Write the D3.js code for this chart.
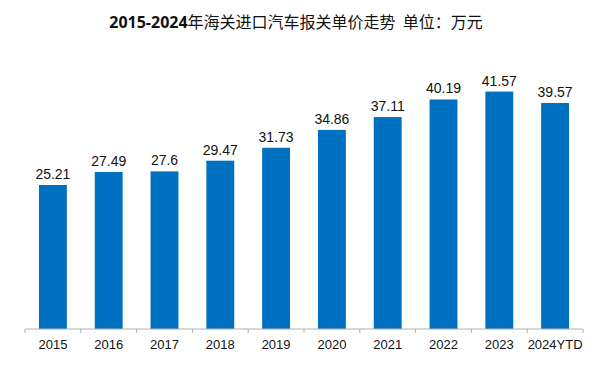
<!DOCTYPE html>
<html><head><meta charset="utf-8">
<script src="https://cdn.jsdelivr.net/npm/d3@7"></script>
<style>body{margin:0;background:#fff}svg{display:block}</style>
</head><body>
<script>
const categories = ["2015","2016","2017","2018","2019","2020","2021","2022","2023","2024YTD"];
const values = [25.21,27.49,27.6,29.47,31.73,34.86,37.11,40.19,41.57,39.57];
const valueLabels = ["25.21","27.49","27.6","29.47","31.73","34.86","37.11","40.19","41.57","39.57"];
const titleBold = "2015-2024";
const titleRest = "年海关进口汽车报关单价走势  单位：万元";

const W = 600, H = 366;
const svg = d3.select("body").append("svg").attr("width", W).attr("height", H);

const x = d3.scaleBand().domain(categories).range([25, 583]).paddingInner(0.5).paddingOuter(0.25);
const y = d3.scaleLinear().domain([0, 45]).range([329, 72]);

// title
const t = svg.append("text").attr("x", 296).attr("y", 28).attr("text-anchor", "middle")
  .attr("xml:space", "preserve")
  .style("font-family", "'Noto Sans CJK SC', 'Open Sans', sans-serif").style("font-size", "16px").attr("fill", "#111")
  .style("white-space", "pre");
t.append("tspan").text(titleBold).style("font-weight", "bold").style("font-family", "'Open Sans','Noto Sans CJK SC',sans-serif");
t.append("tspan").text(titleRest).style("font-weight", "normal");

// bars
svg.selectAll("rect.bar").data(values).enter().append("rect").attr("class", "bar")
  .attr("x", (d, i) => x(categories[i]))
  .attr("width", x.bandwidth())
  .attr("y", d => y(d))
  .attr("height", d => y(0) - y(d))
  .attr("fill", "#0070C0");

// value labels
svg.selectAll("text.val").data(values).enter().append("text").attr("class", "val")
  .attr("x", (d, i) => x(categories[i]) + x.bandwidth() / 2)
  .attr("y", d => y(d) - 6)
  .attr("text-anchor", "middle")
  .style("font-family", "'Liberation Sans', Arial, sans-serif").style("font-size", "14px")
  .attr("fill", "#111")
  .text((d, i) => valueLabels[i]);

// axis
const ax = svg.append("g").attr("transform", "translate(0,329)");
ax.append("line").attr("x1", 25).attr("x2", 583).attr("stroke", "#b0b0b0");
const step = x.step();
const tickPos = d3.range(categories.length + 1).map(i => 25 + i * step);
ax.selectAll("line.tk").data(tickPos).enter().append("line").attr("class", "tk")
  .attr("x1", d => d).attr("x2", d => d).attr("y1", 0).attr("y2", 4).attr("stroke", "#b0b0b0");
ax.selectAll("text.cat").data(categories).enter().append("text").attr("class", "cat")
  .attr("x", d => x(d) + x.bandwidth() / 2)
  .attr("y", 20)
  .attr("text-anchor", "middle")
  .style("font-family", "'Liberation Sans', Arial, sans-serif").style("font-size", "13px")
  .attr("fill", "#111")
  .text(d => d);
</script>
</body></html>
